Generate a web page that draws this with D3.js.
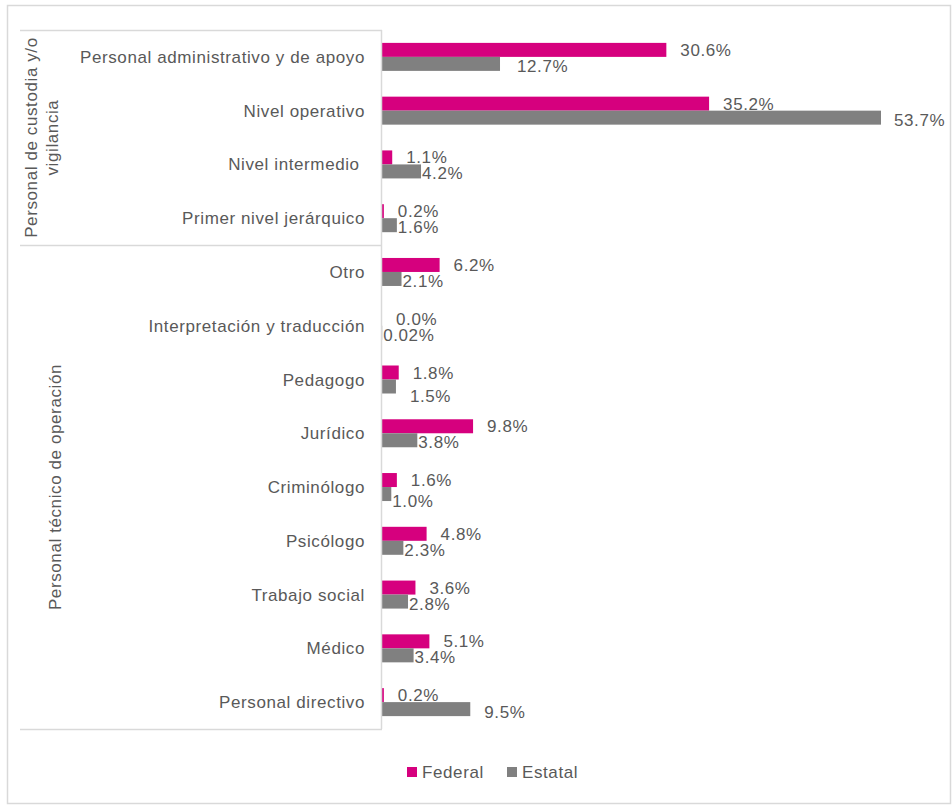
<html>
<head>
  <meta charset="utf-8">
  <title>Personal por funcion</title>
  <script src="https://cdnjs.cloudflare.com/ajax/libs/d3/7.8.5/d3.min.js"></script>
  <style>
    body { margin: 0; background: #fff; }
    text { font-family: "Liberation Sans", Arial, sans-serif; fill: #595959; letter-spacing: 0.6px; }
    .frame { fill: none; stroke: #d9d9d9; stroke-width: 1.5px; }
    .rule { stroke: #d9d9d9; stroke-width: 1.5px; }
  </style>
</head>
<body>
  <svg width="952" height="806"></svg>
  <script>
    // categories, top to bottom
    var categories = [
      "Personal administrativo y de apoyo",
      "Nivel operativo",
      "Nivel intermedio\u00a0",
      "Primer nivel jerárquico",
      "Otro",
      "Interpretación y traducción",
      "Pedagogo",
      "Jurídico",
      "Criminólogo",
      "Psicólogo",
      "Trabajo social",
      "Médico",
      "Personal directivo"
    ];
    var federal = [30.6, 35.2, 1.1, 0.2, 6.2, 0.0, 1.8, 9.8, 1.6, 4.8, 3.6, 5.1, 0.2];
    var estatal = [12.7, 53.7, 4.2, 1.6, 2.1, 0.02, 1.5, 3.8, 1.0, 2.3, 2.8, 3.4, 9.5];
    var federalLabels = ["30.6%", "35.2%", "1.1%", "0.2%", "6.2%", "0.0%", "1.8%", "9.8%", "1.6%", "4.8%", "3.6%", "5.1%", "0.2%"];
    var estatalLabels = ["12.7%", "53.7%", "4.2%", "1.6%", "2.1%", "0.02%", "1.5%", "3.8%", "1.0%", "2.3%", "2.8%", "3.4%", "9.5%"];
    var groups = [
      {lines: ["Personal de custodia y/o", "vigilancia"], first: 0, last: 3},
      {lines: ["Personal técnico de operación"], first: 4, last: 12}
    ];
    var seriesNames = ["Federal", "Estatal"];
    var colors = ["#d6007e", "#808080"];

    // label nudges for the estatal labels (as they were placed in the original)
    var estNudge = {0: [17, 2], 1: [13, 2], 6: [14, 9], 8: [1, 7], 12: [14, 3]};

    var svg = d3.select("svg");
    svg.append("rect").attr("class", "frame")
      .attr("x", 7.5).attr("y", 5.5).attr("width", 943).attr("height", 798);

    var x = d3.scaleLinear().domain([0, 53.7]).range([382, 881]);
    var y = d3.scaleBand().domain(categories).range([30, 729]);
    var barH = 14;

    var rows = categories.map((c, i) => ({c: c, i: i, f: federal[i], e: estatal[i]}));

    // category labels
    svg.append("g").selectAll("text").data(rows).enter().append("text")
      .attr("x", 365)
      .attr("y", d => y(d.c) + y.bandwidth() / 2 + 6)
      .attr("text-anchor", "end")
      .style("font-size", "17px")
      .style("white-space", "pre")
      .text(d => d.c);

    // bars
    var bars = svg.append("g");
    bars.selectAll("rect.fed").data(rows).enter().append("rect")
      .attr("class", "fed")
      .attr("x", x(0))
      .attr("y", d => y(d.c) + y.bandwidth() / 2 - barH)
      .attr("width", d => x(d.f) - x(0))
      .attr("height", barH)
      .attr("fill", colors[0]);
    bars.selectAll("rect.est").data(rows).enter().append("rect")
      .attr("class", "est")
      .attr("x", x(0))
      .attr("y", d => y(d.c) + y.bandwidth() / 2)
      .attr("width", d => x(d.e) - x(0))
      .attr("height", barH)
      .attr("fill", colors[1]);

    // value labels
    var labels = svg.append("g").style("font-size", "17px");
    labels.selectAll("text.fl").data(rows).enter().append("text")
      .attr("x", d => x(d.f) + 14)
      .attr("y", d => y(d.c) + y.bandwidth() / 2 - barH / 2 + 6)
      .text(d => federalLabels[d.i]);
    labels.selectAll("text.el").data(rows).enter().append("text")
      .attr("x", d => x(d.e) + (estNudge[d.i] ? estNudge[d.i][0] : 1))
      .attr("y", d => y(d.c) + y.bandwidth() / 2 + barH / 2 + 6 + (estNudge[d.i] ? estNudge[d.i][1] : 2))
      .text(d => estatalLabels[d.i]);

    // axis line and group separators
    svg.append("line").attr("class", "rule")
      .attr("x1", x(0) - 0.5).attr("x2", x(0) - 0.5).attr("y1", y.range()[0]).attr("y2", y.range()[1]);
    var bounds = [y.range()[0]].concat(groups.map(g => y(categories[g.last]) + y.bandwidth()));
    svg.append("g").selectAll("line").data(bounds).enter().append("line")
      .attr("class", "rule")
      .attr("x1", 20).attr("x2", x(0))
      .attr("y1", d => Math.round(d) + 0.5).attr("y2", d => Math.round(d) + 0.5);

    // group labels (rotated)
    groups.forEach(g => {
      var top = y(categories[g.first]), bottom = y(categories[g.last]) + y.bandwidth();
      var cy = (top + bottom) / 2;
      var n = g.lines.length;
      var t = svg.append("text")
        .attr("transform", "translate(" + (n > 1 ? 37 : 61) + "," + cy + ") rotate(-90)")
        .attr("text-anchor", "middle")
        .style("font-size", "17px");
      g.lines.forEach((l, k) => {
        t.append("tspan").attr("x", 0).attr("dy", k == 0 ? 0 : 21).text(l);
      });
    });

    // legend
    var legend = svg.append("g").attr("transform", "translate(407,767)");
    var items = legend.selectAll("g").data(seriesNames).enter().append("g")
      .attr("transform", (d, i) => "translate(" + (i * 100) + ",0)");
    items.append("rect").attr("width", 10).attr("height", 10).attr("fill", (d, i) => colors[i]);
    items.append("text").attr("x", 15).attr("y", 11).style("font-size", "17px").text(d => d);
  </script>
</body>
</html>
